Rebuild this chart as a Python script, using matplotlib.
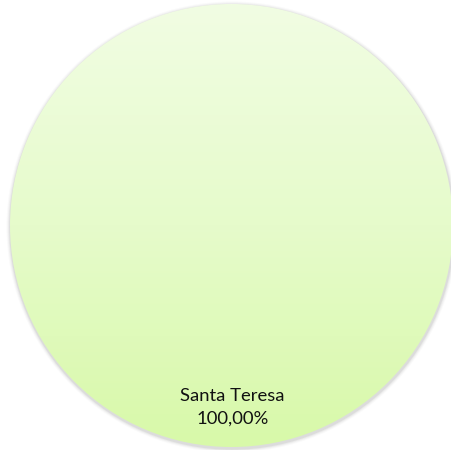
import numpy as np
import matplotlib
matplotlib.use("Agg")
import matplotlib.pyplot as plt
from matplotlib.colors import LinearSegmentedColormap
from matplotlib.patches import Circle

categories = ["Santa Teresa"]
values = [100.0]

W, H = 451, 450
fig = plt.figure(figsize=(W / 100, H / 100), dpi=100)
ax = fig.add_axes([0, 0, 1, 1])
ax.set_xlim(0, W)
ax.set_ylim(H, 0)
ax.set_aspect("equal")
ax.axis("off")

cx, cy, r = 231.5, 225.5, 221.5

# soft shadow
for dr, a in [(4.0, 0.04), (3.0, 0.06), (2.0, 0.08), (1.2, 0.12)]:
    ax.add_patch(Circle((cx + 0.5, cy + 1.5), r + dr, facecolor="#808080", edgecolor="none", alpha=a, zorder=1))

wedges, _ = ax.pie(values, center=(cx, cy), radius=r, frame=True,
                   colors=["none"], wedgeprops=dict(edgecolor="none", linewidth=0))
for w in wedges:
    w.set_zorder(3)

cmap = LinearSegmentedColormap.from_list("g", ["#f1fde3", "#e6fbcb", "#d8f9a9"])
grad = np.linspace(0, 1, 256).reshape(-1, 1)
im = ax.imshow(grad, cmap=cmap, extent=(cx - r, cx + r, cy + r, cy - r), aspect="auto", zorder=2)
im.set_clip_path(wedges[0])
ax.set_xlim(0, W)
ax.set_ylim(H, 0)

total = sum(values)
for cat, v in zip(categories, values):
    pct = f"{v / total * 100:.2f}%".replace(".", ",")
    ax.text(cx + 1, 407.5, f"{cat}\n{pct}", ha="center", va="center", fontsize=13.3,
            family="Lato", color="#111111", linespacing=1.5, zorder=4)

fig.savefig("out.png", dpi=100, facecolor="white")
